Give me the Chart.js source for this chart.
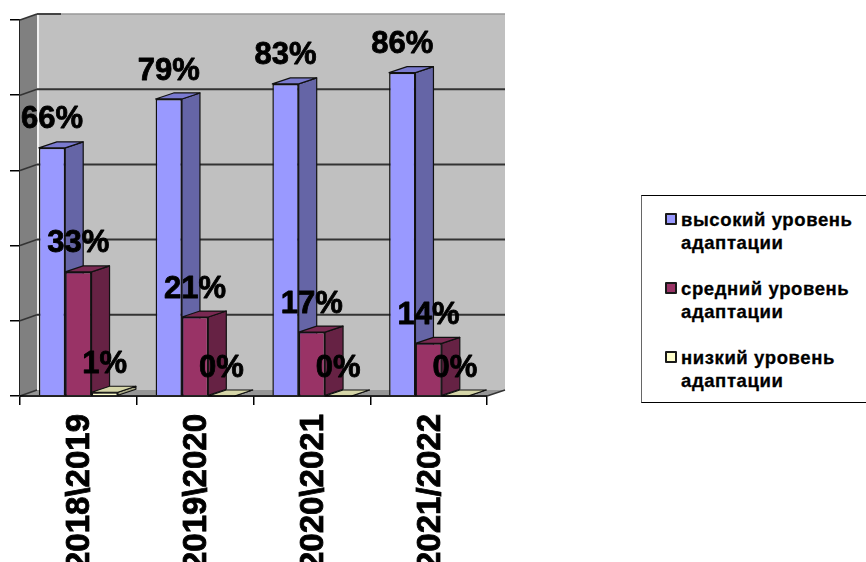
<!DOCTYPE html>
<html>
<head>
<meta charset="utf-8">
<script src="https://cdn.jsdelivr.net/npm/chart.js@4/dist/chart.umd.min.js"></script>
<style>
html,body{margin:0;padding:0;background:#fff;overflow:hidden}
#wrap{position:relative;width:866px;height:562px;overflow:hidden}
canvas{position:absolute;left:0;top:0}
#legend{position:absolute;left:641px;top:195px;width:240px;height:208px;box-sizing:border-box;border:1px solid #000;border-left-color:#666;background:#fff;font:bold 18.5px "Liberation Sans",Arial,sans-serif;letter-spacing:0.6px;-webkit-text-stroke:0.3px #000;color:#000}
.item{position:absolute;left:39px;line-height:23px;white-space:nowrap}
.sw{position:absolute;left:-16px;top:5px;width:8px;height:8px;border:2px solid #1a1a1a;border-radius:1px;-webkit-text-stroke:0}
</style>
</head>
<body>
<div id="wrap">
<canvas id="c" width="866" height="562"></canvas>
<div id="legend"></div>
</div>
<script>
const categories = ["2018\\2019", "2019\\2020", "2020\\2021", "2021/2022"];
const highLevel = [66, 79, 83, 86];
const midLevel = [33, 21, 17, 14];
const lowLevel = [1, 0, 0, 0];
const seriesNames = ["высокий уровень\nадаптации", "средний уровень\nадаптации", "низкий уровень\nадаптации"];
const yTicks = [0, 20, 40, 60, 80, 100];

const palette = [
  {front:"#9999FF", side:"#6565A6", top:"#7A7ACF"},
  {front:"#993366", side:"#662244", top:"#7A2952"},
  {front:"#FFFFCC", side:"#A6A685", top:"#D6D6A8"}
];
const DX = 18, DY = 6;

function poly(ctx, pts, fill, stroke, lw){
  ctx.beginPath();
  pts.forEach((p,i)=> i ? ctx.lineTo(p[0],p[1]) : ctx.moveTo(p[0],p[1]));
  ctx.closePath();
  if(fill){ctx.fillStyle=fill;ctx.fill();}
  if(stroke){ctx.strokeStyle=stroke;ctx.lineWidth=lw||1.5;ctx.lineJoin="round";ctx.stroke();}
}

const scene3d = {
  id:"scene3d",
  beforeDatasetsDraw(chart){
    const {ctx, chartArea:a, scales:{y}} = chart;
    ctx.save();
    const l=a.left, r=a.right, t=a.top, b=a.bottom;
    // walls and floor
    poly(ctx, [[l+DX-1,t-DY],[r+DX,t-DY],[r+DX,b-DY],[l+DX-1,b-DY]], "#C0C0C0");
    poly(ctx, [[l,t],[l+DX-1,t-DY],[l+DX-1,b-DY],[l,b]], "#808080");
    poly(ctx, [[l,b],[r,b],[r+DX,b-DY],[l+DX-1,b-DY]], "#969696");
    ctx.strokeStyle="#F0F0F0";ctx.lineWidth=2;
    ctx.beginPath();ctx.moveTo(l+DX,t-DY);ctx.lineTo(l+DX,b-DY);ctx.stroke();
    // gridlines from the value scale
    yTicks.forEach(v=>{
      const p=y.getPixelForValue(v);
      ctx.strokeStyle="#333";ctx.lineWidth=1.6;
      ctx.beginPath();ctx.moveTo(l,p);ctx.lineTo(l+DX-1,p-DY);
      ctx.stroke();
      if(v>0){
        ctx.strokeStyle= v===100 ? "#999" : "#333";
        ctx.lineWidth= v===100 ? 1.5 : 2;
        ctx.beginPath();ctx.moveTo(l+DX-1,p-DY);ctx.lineTo(r+DX,p-DY);ctx.stroke();
      }
    });
    ctx.strokeStyle="#222";ctx.lineWidth=1.5;
    ctx.beginPath();ctx.moveTo(l+DX-1,t-DY);ctx.lineTo(l+DX+23,t-DY);ctx.stroke();
    ctx.beginPath();ctx.moveTo(r,b);ctx.lineTo(r+DX,b-DY);ctx.strokeStyle="#333";ctx.stroke();
    // bar tops and sides, behind the fronts
    chart.data.datasets.forEach((ds,i)=>{
      chart.getDatasetMeta(i).data.forEach(bar=>{
        const hw=bar.width/2, x0=bar.x-hw, x1=bar.x+hw, top=bar.y, base=bar.base;
        const c=palette[i];
        poly(ctx,[[x1,top],[x1+DX,top-DY],[x1+DX,base-DY],[x1,base]],c.side,"#111",1.2);
        poly(ctx,[[x0,top],[x0+DX,top-DY],[x1+DX,top-DY],[x1,top]],c.top,"#111",1.2);
      });
    });
    ctx.restore();
  },
  afterDatasetsDraw(chart){
    const {ctx, scales:{x,y}} = chart;
    ctx.save();
    ctx.strokeStyle="#000";ctx.lineWidth=1.6;
    ctx.beginPath();ctx.moveTo(x.left,y.bottom);ctx.lineTo(x.right,y.bottom);ctx.stroke();
    // value labels
    ctx.fillStyle="#000";
    ctx.strokeStyle="#000";ctx.lineWidth=0.8;ctx.lineJoin="round";
    ctx.font='bold 31px "Liberation Sans", Arial, sans-serif';
    ctx.textAlign="center";ctx.textBaseline="middle";
    chart.data.datasets.forEach((ds,i)=>{
      chart.getDatasetMeta(i).data.forEach((bar,j)=>{
        ctx.strokeText(ds.data[j]+"%", bar.x, bar.y-28);
        ctx.fillText(ds.data[j]+"%", bar.x, bar.y-28);
      });
    });
    ctx.restore();
  }
};

const mkDs=(label,data,i)=>({label:label.replace("\n"," "),data,backgroundColor:palette[i].front,borderColor:"#111",borderWidth:1.5,
  barPercentage:1,categoryPercentage:0.677});

new Chart(document.getElementById("c"),{
  type:"bar",
  data:{labels:categories,datasets:[mkDs(seriesNames[0],highLevel,0),mkDs(seriesNames[1],midLevel,1),mkDs(seriesNames[2],lowLevel,2)]},
  plugins:[scene3d],
  options:{
    responsive:false,animation:false,devicePixelRatio:1,
    layout:{padding:{top:20,right:379,left:0,bottom:0}},
    plugins:{legend:{display:false},tooltip:{enabled:false}},
    scales:{
      x:{
        afterFit(s){s.height=166;},
        grid:{drawOnChartArea:false,drawTicks:true,tickLength:9,tickColor:"#000",lineWidth:1.5},
        border:{display:true,color:"#000",width:1.5},
        ticks:{autoSkip:false,minRotation:90,maxRotation:90,padding:9,labelOffset:2,color:"#000",
          textStrokeColor:"#000",textStrokeWidth:0.8,
          font:{family:'"Liberation Sans", Arial, sans-serif',size:33,weight:"bold"}}
      },
      y:{
        min:0,max:100,
        afterFit(s){s.width=20;},
        afterBuildTicks(s){s.ticks=yTicks.map(v=>({value:v}));},
        grid:{drawOnChartArea:false,drawTicks:true,tickLength:10,tickColor:"#000",lineWidth:1.5},
        border:{display:true,color:"#222",width:2},
        ticks:{display:false}
      }
    }
  }
});

// legend
const leg=document.getElementById("legend");
const tops=[12,81,150];
seriesNames.forEach((n,i)=>{
  const d=document.createElement("div");
  d.className="item";d.style.top=tops[i]+"px";
  d.innerHTML='<span class="sw" style="background:'+palette[i].front+'"></span>'+n.replace("\n","<br>");
  leg.appendChild(d);
});
</script>
</body>
</html>
